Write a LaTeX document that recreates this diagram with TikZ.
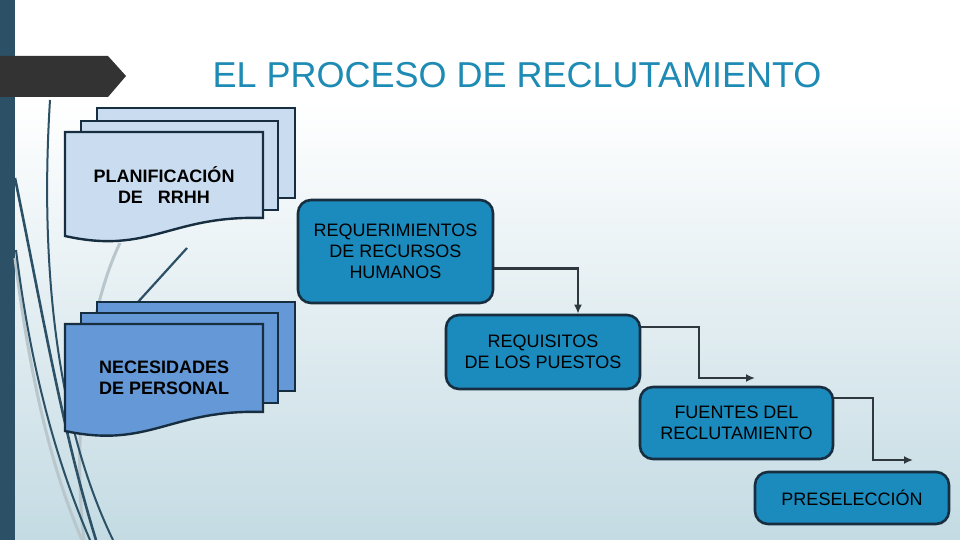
\documentclass[tikz,border=0pt]{standalone}
\usepackage{fontspec}
\setmainfont{Liberation Sans}
\usetikzlibrary{arrows.meta,calc}
\definecolor{bgbot}{RGB}{196,219,227}
\definecolor{barcol}{RGB}{44,80,102}
\definecolor{banner}{RGB}{51,51,51}
\definecolor{titlecol}{RGB}{30,139,181}
\definecolor{boxfill}{RGB}{27,138,189}
\definecolor{edge}{RGB}{22,46,64}
\definecolor{doclight}{RGB}{202,221,240}
\definecolor{docdark}{RGB}{100,152,214}
\definecolor{conncol}{RGB}{46,56,62}
\definecolor{wisp}{RGB}{44,80,102}
\definecolor{wispgray}{RGB}{185,198,204}
\begin{document}
\begin{tikzpicture}[x=1pt,y=-1pt,
  procbox/.style={draw=edge,line width=2.6pt,fill=boxfill,rounded corners=13pt,
    align=center,inner sep=0pt,text=black,font=\fontsize{18}{21}\selectfont},
  docsheet/.style={draw=edge,line width=2.4pt},
  doctext/.style={font=\bfseries\fontsize{18}{21}\selectfont,text=black,inner sep=0pt},
  conn/.style={draw=conncol,line width=2.2pt,-{Latex[length=9pt,width=8pt]}},
  wispline/.style={draw=wisp,line width=2.6pt},
  wispgr/.style={draw=wispgray,line width=3pt}]
\useasboundingbox (0,0) rectangle (960,540);
% background
\fill[white] (0,0) rectangle (960,100);
\shade[top color=white,bottom color=bgbot] (0,100) rectangle (960,540);
\fill[barcol] (0,0) rectangle (15,540);
% wisp lines
\draw[wispgr] (120,243) .. controls (92,300) and (70,420) .. (84,540);
\draw[wispgr] (15,258) .. controls (30,380) and (52,470) .. (82,540);
\draw[wispline,line width=2pt] (50,100) .. controls (40,260) and (55,420) .. (113,540);
\draw[wispline] (15,178) .. controls (42,310) and (62,430) .. (96,540);
\draw[wispline,line width=2pt] (16,250) .. controls (32,380) and (60,470) .. (90,540);
\draw[wispline,line width=2.2pt] (187,248) -- (138,302);
% banner
\fill[banner] (0,56) -- (108,56) -- (126,76) -- (108,97) -- (0,97) -- cycle;
% title
\node[text=titlecol,font=\fontsize{36}{40}\selectfont,inner sep=0pt] (title) at (517,75) {EL PROCESO DE RECLUTAMIENTO};
% document stack 1
\draw[docsheet,fill=doclight] (97,108) rectangle (295,198);
\draw[docsheet,fill=doclight] (81,121) rectangle (278,210);
\draw[docsheet,fill=doclight] (65,132) -- (263,132) -- (263,218)
  .. controls (170,215) and (150,255) .. (65,236) -- cycle;
\node[doctext,align=center] (plan) at (164,185) {PLANIFICACIÓN\\DE\hspace{15pt}RRHH};
% document stack 2
\draw[docsheet,fill=docdark] (97,302) rectangle (295,391);
\draw[docsheet,fill=docdark] (81,313) rectangle (278,403);
\draw[docsheet,fill=docdark] (65,324) -- (263,324) -- (263,412)
  .. controls (170,409) and (150,449) .. (65,431) -- cycle;
\node[doctext,align=left,anchor=west] (nec) at (99,378) {NECESIDADES\\DE PERSONAL};
% process boxes
\node[procbox,minimum width=195pt,minimum height=103pt] (req) at (395.5,251.5) {REQUERIMIENTOS\\DE RECURSOS\\HUMANOS};
\node[procbox,minimum width=194pt,minimum height=74pt] (reqs) at (543,352) {REQUISITOS\\DE LOS PUESTOS};
\node[procbox,minimum width=193pt,minimum height=72pt] (fue) at (736.5,423) {FUENTES DEL\\RECLUTAMIENTO};
\node[procbox,minimum width=194pt,minimum height=52pt] (pre) at (852,498) {PRESELECCIÓN};
% connectors
\coordinate (e2) at (755,378);
\coordinate (e3) at (913,460);
\draw[conn] ([yshift=-17pt]req.east) -| ([xshift=35pt]reqs.north);
\draw[conn] ([yshift=25pt]reqs.east) -- ++(58,0) |- (e2);
\draw[conn] ([yshift=25pt]fue.east) -- ++(39,0) |- (e3);
\end{tikzpicture}
\end{document}
